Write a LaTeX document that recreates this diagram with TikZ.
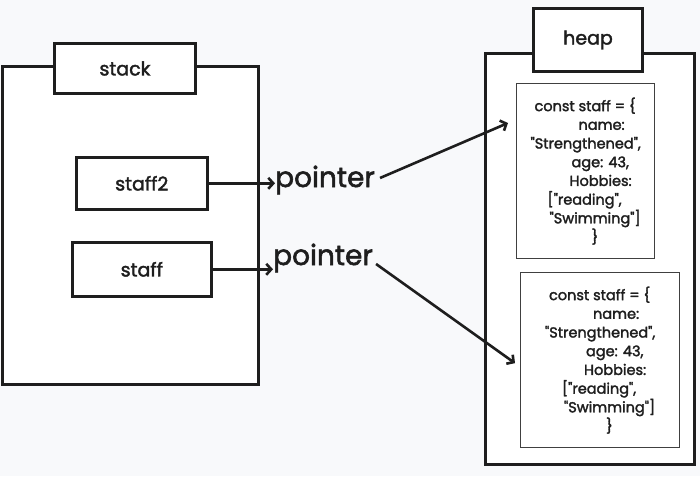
\documentclass[tikz,border=0pt]{standalone}
\usepackage{fontspec}
\newfontfamily\handfont{Poppins}[FakeBold=2]
\usetikzlibrary{arrows.meta}
\definecolor{canvas}{HTML}{F8F9FB}
\definecolor{ink}{HTML}{1E1E1E}
\newcommand{\staffobj}{%
\hspace*{4pt}const staff = \{\\
\hspace*{48pt}name:\\
"Strengthened",\\
\hspace*{41pt}age: 43,\\
\hspace*{39pt}Hobbies:\\
\hspace*{17pt}["reading",\\
\hspace*{19pt}"Swimming"]\\
\hspace*{61pt}\}}
\begin{document}
\begin{tikzpicture}
[x=1pt,y=-1pt,
every node/.style={font=\handfont\fontsize{19}{22}\selectfont,text=ink},
frame/.style={draw=ink,line width=3pt,fill=white,anchor=north west,inner sep=0pt},
slot/.style={draw=ink,line width=2.6pt,fill=white,anchor=north west,inner sep=0pt},
objbox/.style={draw=ink!85,line width=1.3pt,fill=white,anchor=north west,inner sep=0pt,
  align=left,font=\handfont\fontsize{14.5}{18.7}\selectfont},
ptr/.style={anchor=base west,inner sep=0pt,font=\handfont\fontsize{28}{30}\selectfont},
link/.style={draw=ink,line width=2.6pt,-{Straight Barb[length=5pt,width=11pt]}}]
\fill[canvas] (0,0) rectangle (700,476);
\useasboundingbox (0,0) rectangle (700,476);
% stack side
\node[frame,minimum width=256pt,minimum height=318pt] (stackbox) at (1,65) {};
\node[frame,minimum width=141pt,minimum height=50pt] (stacklabel) at (53,42) {stack};
\node[slot,minimum width=131pt,minimum height=52pt] (staffTwo) at (75,156) {staff2};
\node[slot,minimum width=139pt,minimum height=54pt] (staff) at (71,241) {staff};
% heap side
\node[frame,minimum width=209pt,minimum height=411pt] (heapbox) at (484,52) {};
\node[frame,minimum width=109pt,minimum height=63pt] (heaplabel) at (532,7) {heap};
\node[objbox,minimum width=138pt,minimum height=175pt] (objA) at (516,83) {\staffobj};
\node[objbox,minimum width=159pt,minimum height=175pt] (objB) at (520,272) {\staffobj};
% pointers
\node[ptr] (ptrA) at (275,187) {pointer};
\node[ptr] (ptrB) at (273,265) {pointer};
\coordinate (tipA) at (508,123);
\draw[link] (staffTwo.east) -- (staffTwo.east -| ptrA.west);
\draw[link] (staff.east) -- (staff.east -| ptrB.west);
\draw[link] ([xshift=5pt,yshift=2pt]ptrA.east) -- (tipA);
\draw[link] ([xshift=3pt,yshift=-6pt]ptrB.east) -- ([xshift=-5pt,yshift=-3pt]objB.west);
\end{tikzpicture}
\end{document}
